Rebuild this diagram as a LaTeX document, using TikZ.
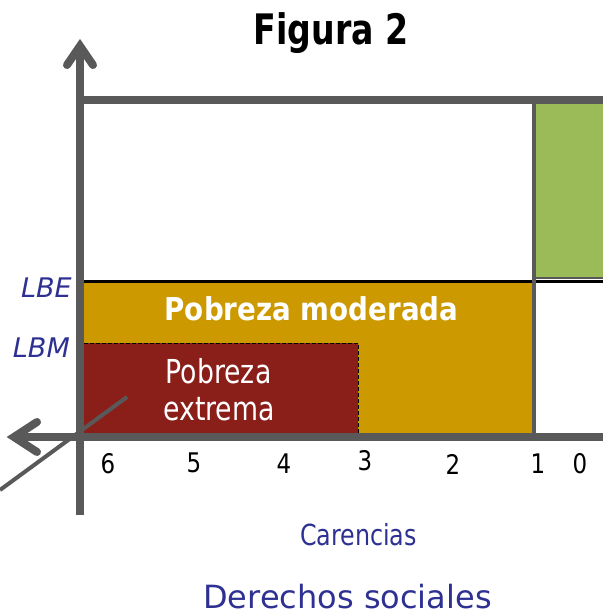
\documentclass[tikz,border=0pt]{standalone}
\usepackage{fontspec}
\setmainfont{DejaVu Sans}
\newcommand\hsq[2]{\scalebox{#1}[1]{#2}}
\definecolor{axisgray}{RGB}{89,89,89}
\definecolor{moderada}{RGB}{204,153,0}
\definecolor{extrema}{RGB}{138,31,26}
\definecolor{verde}{RGB}{155,187,89}
\definecolor{azul}{RGB}{46,49,146}
\tikzset{
  axisline/.style={draw=axisgray, line width=8pt},
  arrowhead/.style={draw=axisgray, line width=8pt, line cap=round, line join=miter},
  thinaxis/.style={draw=axisgray, line width=4.5pt},
  lbl/.style={inner sep=0pt, anchor=base, text=azul},
  num/.style={inner sep=0pt, anchor=base, font=\fontsize{27}{30}\selectfont},
  white text/.style={inner sep=0pt, anchor=base, text=white}
}
\begin{document}
\begin{tikzpicture}[x=1pt,y=-1pt]
\useasboundingbox (0,0) rectangle (603,615);
% coordinates
\coordinate (uptip) at (80,46);
\coordinate (axbottom) at (80,515);
\coordinate (lefttip) at (14,437);
\coordinate (axright) at (603,437);
\coordinate (topL) at (76,100);
\coordinate (topR) at (603,100);
\coordinate (sepT) at (534,100);
\coordinate (sepB) at (534,437);
\coordinate (lbeL) at (84,281);
\coordinate (lbeR) at (603,281);
\coordinate (diagA) at (127,397);
\coordinate (diagB) at (0,490);
% regions
\fill[verde] (535,104) rectangle (603,278);
\draw[axisgray, line width=1.5pt] (535,278) -- (603,278);
\fill[moderada] (84,283) rectangle (532,433);
\fill[extrema] (84,343) rectangle (358,433);
\draw[black, line width=0.9pt, dash pattern=on 4pt off 2pt] (84,343) -- (358,343) -- (358,433);
% lines
\draw[black, line width=3pt] (lbeL) -- (lbeR);
\draw[thinaxis] (sepT) -- (sepB);
\draw[axisgray, line width=4pt] (diagA) -- (diagB);
\draw[axisline] (topL) -- (topR);
\draw[axisline] (lefttip) -- (axright);
\draw[axisline] (uptip) -- (axbottom);
\draw[arrowhead] (67,65) -- (uptip) -- (93,65);
\draw[arrowhead] (37,422) -- (lefttip) -- (37,452);
% texts
\node[inner sep=0pt, anchor=base, font=\bfseries\fontsize{42}{46}\selectfont] (title) at (331,45) {\hsq{0.79}{Figura 2}};
\node[lbl, anchor=base east, font=\itshape\fontsize{27}{30}\selectfont] (lbe) at (72,297) {LBE};
\node[lbl, anchor=base east, font=\itshape\fontsize{27}{30}\selectfont] (lbm) at (70,357) {LBM};
\node[white text, font=\bfseries\fontsize{31.5}{36}\selectfont] (pm) at (311.5,320) {\hsq{0.88}{Pobreza moderada}};
\node[white text, font=\fontsize{33}{37}\selectfont] (pe1) at (218.5,383) {\hsq{0.81}{Pobreza}};
\node[white text, font=\fontsize{33}{37}\selectfont] (pe2) at (219,420) {\hsq{0.81}{extrema}};
\node[num] (n6) at (108,473) {\hsq{0.85}{6}};
\node[num] (n5) at (194,472) {\hsq{0.85}{5}};
\node[num] (n4) at (284,473) {\hsq{0.85}{4}};
\node[num] (n3) at (365,470) {\hsq{0.85}{3}};
\node[num] (n2) at (453,474) {\hsq{0.85}{2}};
\node[num] (n1) at (538,473) {\hsq{0.85}{1}};
\node[num] (n0) at (580,473) {\hsq{0.85}{0}};
\node[lbl, font=\fontsize{29}{33}\selectfont] (car) at (358.5,545) {\hsq{0.82}{Carencias}};
\node[lbl, font=\fontsize{32}{36}\selectfont] (der) at (347.5,608) {Derechos sociales};
\end{tikzpicture}
\end{document}
